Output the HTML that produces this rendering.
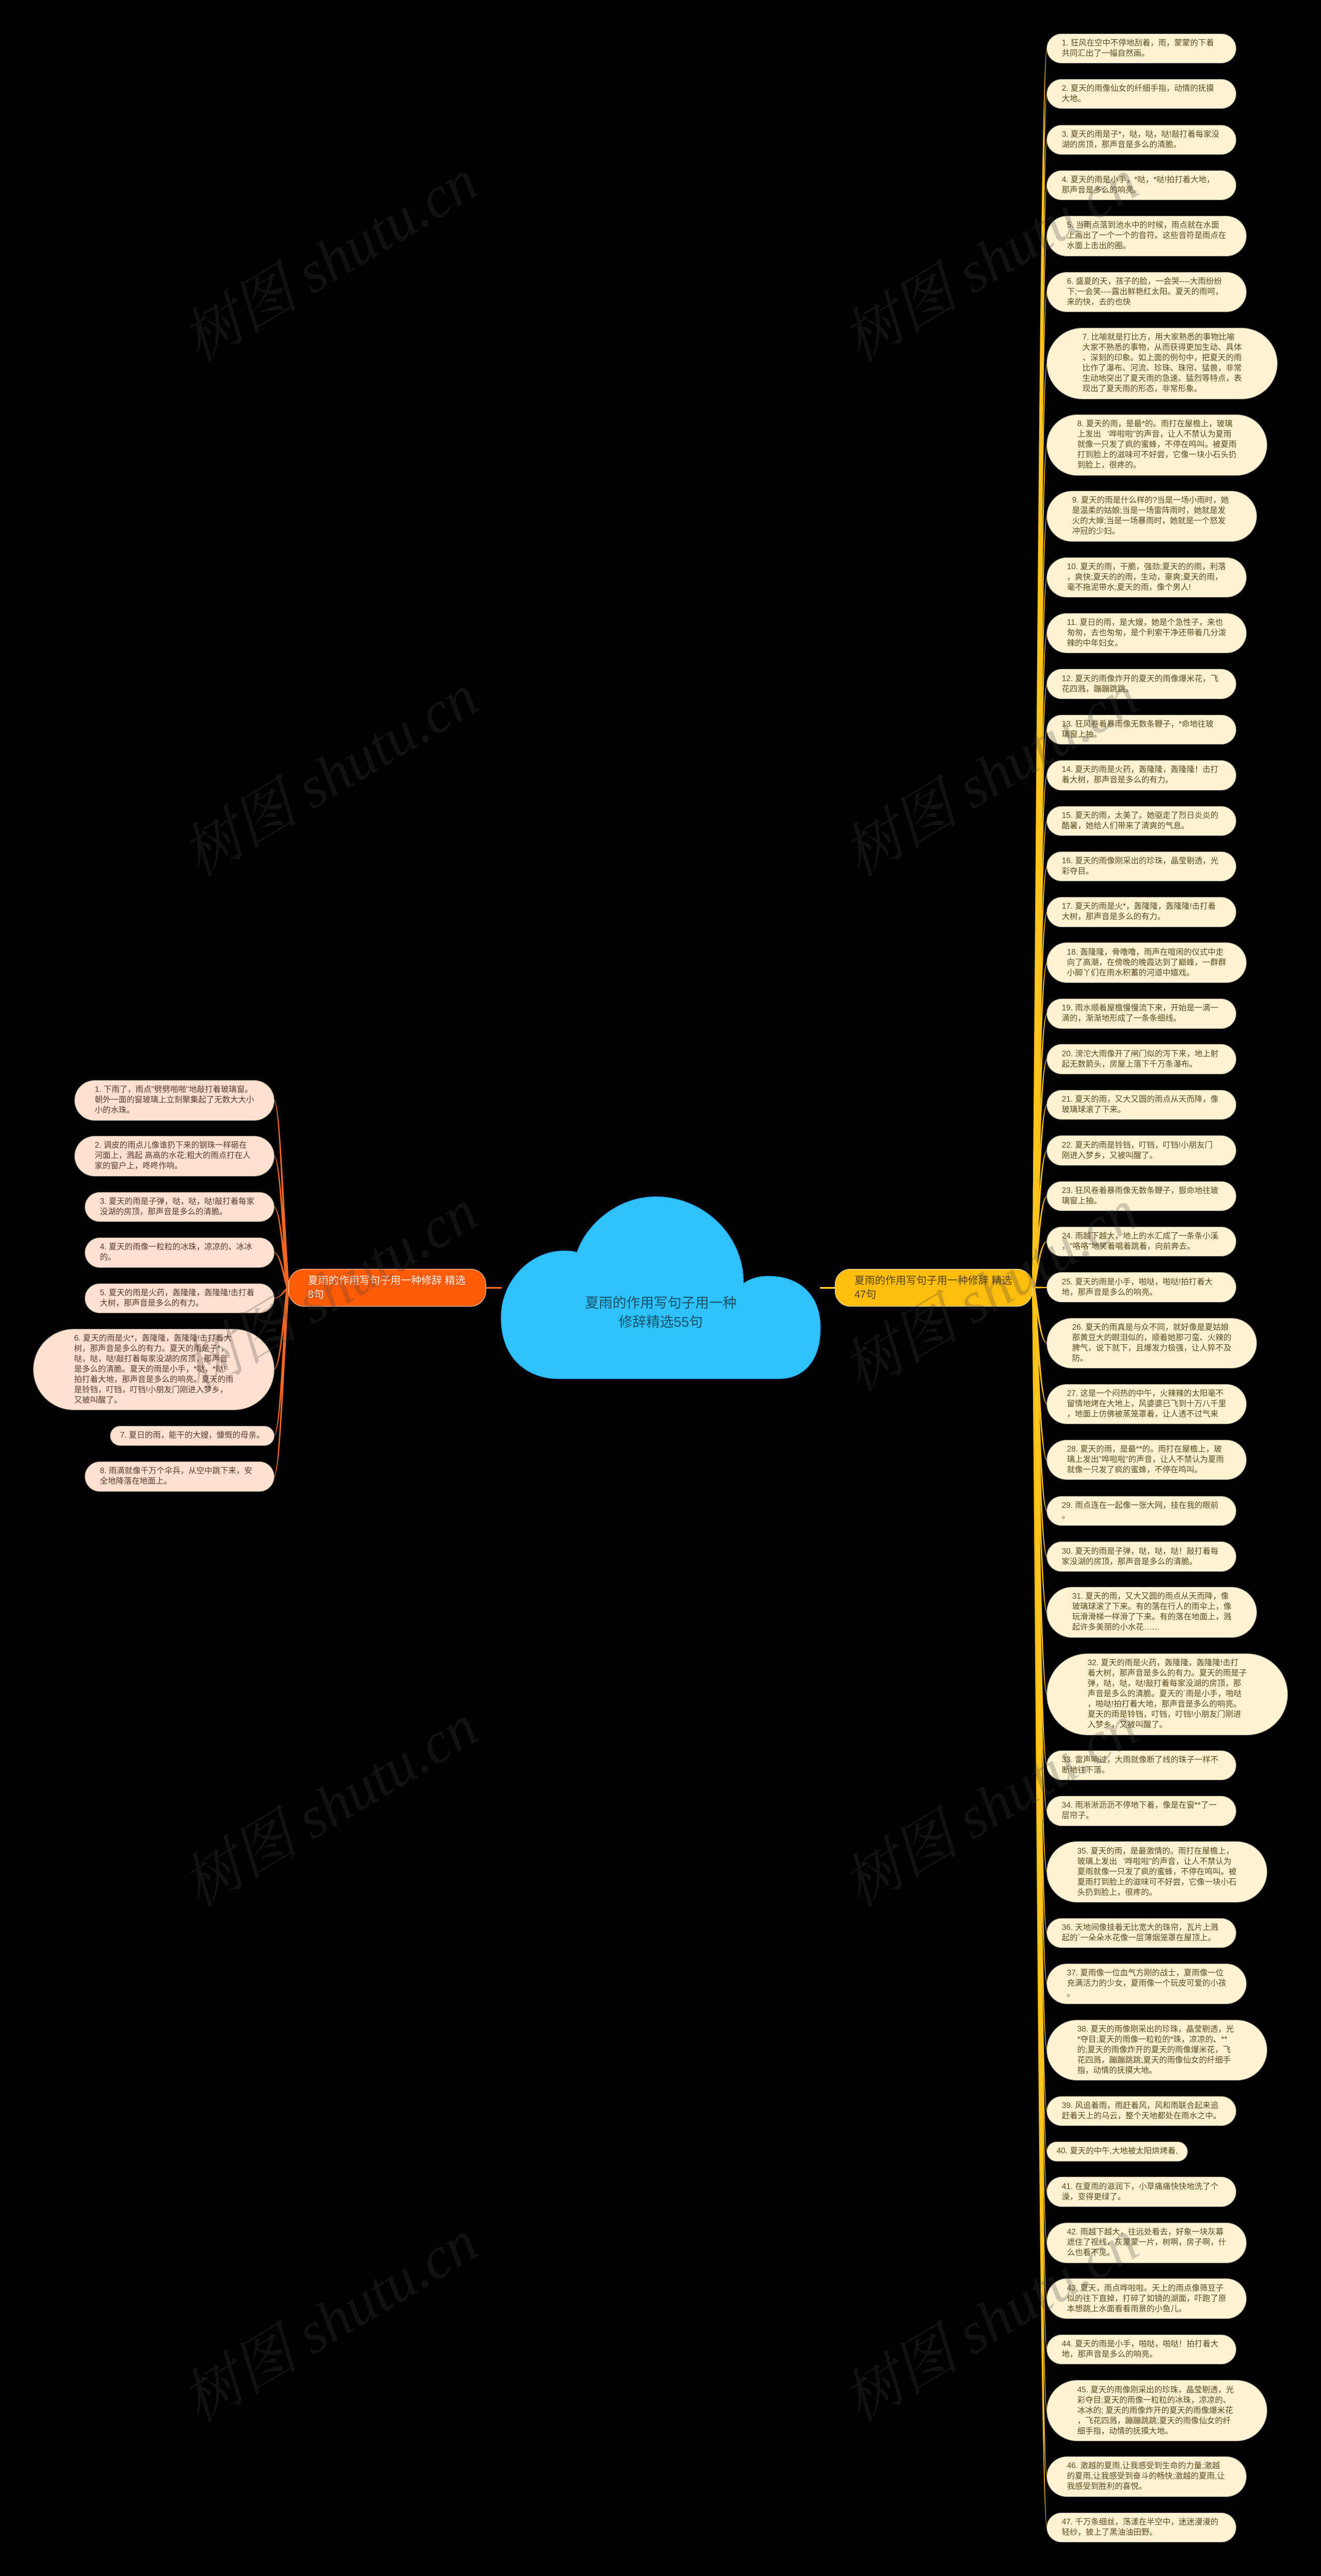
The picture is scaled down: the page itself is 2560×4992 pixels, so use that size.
<!DOCTYPE html>
<html lang="zh"><head><meta charset="utf-8"><title>夏雨的作用写句子用一种修辞精选55句</title>
<style>
html,body{margin:0;padding:0;background:#000}
body{width:2560px;height:4992px;position:relative;overflow:hidden;font-family:"Liberation Sans","WenQuanYi Zen Hei","Noto Sans CJK SC",sans-serif}
svg{position:absolute;left:0;top:0}
.n{position:absolute;box-sizing:border-box;display:flex;align-items:center;white-space:pre;font-size:15.44px;line-height:20px;border-radius:80px;box-shadow:0 0 0 1px rgba(200,200,190,.55)}
.r{left:2029px;background:#fff3d3;color:#5c4b20}
.l{background:#ffe1d0;color:#5a3a2c}
.h1{height:36.6px;width:272px;padding-left:18.6px}
.h2{height:56.6px;width:366px;padding-left:28.6px}
.h3{height:76.6px;width:386px;padding-left:38.6px}
.h4{height:96.6px;width:406px;padding-left:48.6px}
.h5{height:116.6px;width:426px;padding-left:58.6px}
.h6{height:136.6px;width:446px;padding-left:68.6px}
.h7{height:156.6px;width:466px;padding-left:78.6px}
.b{position:absolute;top:2459px;height:73.4px;width:383px;box-sizing:border-box;padding-left:36.8px;display:flex;align-items:center;white-space:pre;font-size:20px;line-height:26.7px;border-radius:30px;border:1.5px solid #ffe9c8}
.c{position:absolute;left:971px;width:619px;top:2507px;text-align:center;font-size:26.7px;line-height:36.7px;color:#17506e;white-space:pre}
.q{display:inline-block;width:1em;text-align:right}
</style></head><body>
<svg width="2560" height="4992" viewBox="0 0 2560 4992">
<path d="M941 2495.7H972" stroke="#e8662c" stroke-width="3.5" fill="none"/>
<path d="M1589 2495.7H1620" stroke="#ffc93c" stroke-width="3.5" fill="none"/>
<path d="M1082 2672C1030 2672 971 2640 971 2553C971 2480 1030 2424 1092 2424C1102 2424 1110 2424 1118 2427C1135 2375 1195 2319 1271 2319C1360 2319 1441 2390 1441 2487C1455 2477 1472 2473 1489 2473C1550 2473 1590 2510 1590 2573C1590 2640 1555 2672 1509 2672Z" fill="#2fc2f9" stroke="#2a8fe0" stroke-width="1"/>
<g fill="#ffbf0f" stroke="#ffc51f" stroke-width="1">
<path d="M2000.5 2495C2008 1774.7 2015.5 94 2029 94C2017.5 94 2011 1774.7 2005.5 2495Z"/>
<path d="M2000.5 2495C2008 1801.1 2015.5 182 2029 182C2017.5 182 2011 1801.1 2005.5 2495Z"/>
<path d="M2000.5 2495C2008 1827.8 2015.5 271 2029 271C2017.5 271 2011 1827.8 2005.5 2495Z"/>
<path d="M2000.5 2495C2008 1854.2 2015.5 359 2029 359C2017.5 359 2011 1854.2 2005.5 2495Z"/>
<path d="M2000.5 2495C2008 1883.8 2015.5 457.5 2029 457.5C2017.5 457.5 2011 1883.8 2005.5 2495Z"/>
<path d="M2000.5 2495C2008 1916.3 2015.5 566 2029 566C2017.5 566 2011 1916.3 2005.5 2495Z"/>
<path d="M2000.5 2495C2008 1957.9 2015.5 704.5 2029 704.5C2017.5 704.5 2011 1957.9 2005.5 2495Z"/>
<path d="M2000.5 2495C2008 2005.3 2015.5 862.5 2029 862.5C2017.5 862.5 2011 2005.3 2005.5 2495Z"/>
<path d="M2000.5 2495C2008 2046.7 2015.5 1000.5 2029 1000.5C2017.5 1000.5 2011 2046.7 2005.5 2495Z"/>
<path d="M2000.5 2495C2008 2082.2 2015.5 1119 2029 1119C2017.5 1119 2011 2082.2 2005.5 2495Z"/>
<path d="M2000.5 2495C2008 2114.6 2015.5 1227 2029 1227C2017.5 1227 2011 2114.6 2005.5 2495Z"/>
<path d="M2000.5 2495C2008 2144.3 2015.5 1326 2029 1326C2017.5 1326 2011 2144.3 2005.5 2495Z"/>
<path d="M2000.5 2495C2008 2170.7 2015.5 1414 2029 1414C2017.5 1414 2011 2170.7 2005.5 2495Z"/>
<path d="M2000.5 2495C2008 2197.3 2015.5 1502.5 2029 1502.5C2017.5 1502.5 2011 2197.3 2005.5 2495Z"/>
<path d="M2000.5 2495C2008 2223.8 2015.5 1591 2029 1591C2017.5 1591 2011 2223.8 2005.5 2495Z"/>
<path d="M2000.5 2495C2008 2250.2 2015.5 1679 2029 1679C2017.5 1679 2011 2250.2 2005.5 2495Z"/>
<path d="M2000.5 2495C2008 2276.8 2015.5 1767.5 2029 1767.5C2017.5 1767.5 2011 2276.8 2005.5 2495Z"/>
<path d="M2000.5 2495C2008 2306.3 2015.5 1866 2029 1866C2017.5 1866 2011 2306.3 2005.5 2495Z"/>
<path d="M2000.5 2495C2008 2335.9 2015.5 1964.5 2029 1964.5C2017.5 1964.5 2011 2335.9 2005.5 2495Z"/>
<path d="M2000.5 2495C2008 2362.4 2015.5 2053 2029 2053C2017.5 2053 2011 2362.4 2005.5 2495Z"/>
<path d="M2000.5 2495C2008 2388.8 2015.5 2141 2029 2141C2017.5 2141 2011 2388.8 2005.5 2495Z"/>
<path d="M2000.5 2495C2008 2415.5 2015.5 2230 2029 2230C2017.5 2230 2011 2415.5 2005.5 2495Z"/>
<path d="M2000.5 2495C2008 2441.9 2015.5 2318 2029 2318C2017.5 2318 2011 2441.9 2005.5 2495Z"/>
<path d="M2000.5 2495C2008 2468.3 2015.5 2406 2029 2406C2017.5 2406 2011 2468.3 2005.5 2495Z"/>
<path d="M2000.5 2493.5L2029 2494.5V2495.5L2000.5 2496.5Z"/>
<path d="M2000.5 2495C2008 2527.4 2015.5 2603 2029 2603C2017.5 2603 2011 2527.4 2005.5 2495Z"/>
<path d="M2000.5 2495C2008 2562.8 2015.5 2721 2029 2721C2017.5 2721 2011 2562.8 2005.5 2495Z"/>
<path d="M2000.5 2495C2008 2595.4 2015.5 2829.5 2029 2829.5C2017.5 2829.5 2011 2595.4 2005.5 2495Z"/>
<path d="M2000.5 2495C2008 2624.9 2015.5 2928 2029 2928C2017.5 2928 2011 2624.9 2005.5 2495Z"/>
<path d="M2000.5 2495C2008 2651.6 2015.5 3017 2029 3017C2017.5 3017 2011 2651.6 2005.5 2495Z"/>
<path d="M2000.5 2495C2008 2683.9 2015.5 3124.5 2029 3124.5C2017.5 3124.5 2011 2683.9 2005.5 2495Z"/>
<path d="M2000.5 2495C2008 2731.6 2015.5 3283.5 2029 3283.5C2017.5 3283.5 2011 2731.6 2005.5 2495Z"/>
<path d="M2000.5 2495C2008 2772.8 2015.5 3421 2029 3421C2017.5 3421 2011 2772.8 2005.5 2495Z"/>
<path d="M2000.5 2495C2008 2799.4 2015.5 3509.5 2029 3509.5C2017.5 3509.5 2011 2799.4 2005.5 2495Z"/>
<path d="M2000.5 2495C2008 2834.9 2015.5 3628 2029 3628C2017.5 3628 2011 2834.9 2005.5 2495Z"/>
<path d="M2000.5 2495C2008 2870.3 2015.5 3746 2029 3746C2017.5 3746 2011 2870.3 2005.5 2495Z"/>
<path d="M2000.5 2495C2008 2899.9 2015.5 3844.5 2029 3844.5C2017.5 3844.5 2011 2899.9 2005.5 2495Z"/>
<path d="M2000.5 2495C2008 2938.4 2015.5 3973 2029 3973C2017.5 3973 2011 2938.4 2005.5 2495Z"/>
<path d="M2000.5 2495C2008 2973.8 2015.5 4091 2029 4091C2017.5 4091 2011 2973.8 2005.5 2495Z"/>
<path d="M2000.5 2495C2008 2997.4 2015.5 4169.5 2029 4169.5C2017.5 4169.5 2011 2997.4 2005.5 2495Z"/>
<path d="M2000.5 2495C2008 3020.9 2015.5 4248 2029 4248C2017.5 4248 2011 3020.9 2005.5 2495Z"/>
<path d="M2000.5 2495C2008 3050.5 2015.5 4346.5 2029 4346.5C2017.5 4346.5 2011 3050.5 2005.5 2495Z"/>
<path d="M2000.5 2495C2008 3083 2015.5 4455 2029 4455C2017.5 4455 2011 3083 2005.5 2495Z"/>
<path d="M2000.5 2495C2008 3112.4 2015.5 4553 2029 4553C2017.5 4553 2011 3112.4 2005.5 2495Z"/>
<path d="M2000.5 2495C2008 3148.1 2015.5 4672 2029 4672C2017.5 4672 2011 3148.1 2005.5 2495Z"/>
<path d="M2000.5 2495C2008 3186.4 2015.5 4799.5 2029 4799.5C2017.5 4799.5 2011 3186.4 2005.5 2495Z"/>
<path d="M2000.5 2495C2008 3215.9 2015.5 4898 2029 4898C2017.5 4898 2011 3215.9 2005.5 2495Z"/>
</g>
<g fill="#f0651f" stroke="#f26a25" stroke-width="1">
<path d="M560.5 2496C551 2386.8 544 2132 531 2132C542 2132 549 2386.8 555.5 2496Z"/>
<path d="M560.5 2496C551 2419.2 544 2240 531 2240C542 2240 549 2419.2 555.5 2496Z"/>
<path d="M560.5 2496C551 2448.8 544 2338.5 531 2338.5C542 2338.5 549 2448.8 555.5 2496Z"/>
<path d="M560.5 2496C551 2475.3 544 2427 531 2427C542 2427 549 2475.3 555.5 2496Z"/>
<path d="M560.5 2496C551 2502 544 2516 531 2516C542 2516 549 2502 555.5 2496Z"/>
<path d="M560.5 2496C551 2543.3 544 2653.5 531 2653.5C542 2653.5 549 2543.3 555.5 2496Z"/>
<path d="M560.5 2496C551 2581.8 544 2782 531 2782C542 2782 549 2581.8 555.5 2496Z"/>
<path d="M560.5 2496C551 2605.5 544 2861 531 2861C542 2861 549 2605.5 555.5 2496Z"/>
</g>
</svg>

<div class="c">夏雨的作用写句子用一种
修辞精选55句</div>
<div class="b" style="left:558.8px;background:#ff5a06;color:#fff1e6">夏雨的作用写句子用一种修辞 精选
8句</div>
<div class="b" style="left:1618px;background:#ffbe0d;color:#5a4310">夏雨的作用写句子用一种修辞 精选
47句</div>

<div class="n l h3" style="left:145px;top:2094px">1. 下雨了，雨点"劈劈啪啪"地敲打着玻璃窗。
朝外一面的窗玻璃上立刻聚集起了无数大大小
小的水珠。</div>
<div class="n l h3" style="left:145px;top:2202px">2. 调皮的雨点儿像谁扔下来的钢珠一样砸在
河面上，溅起 高高的水花;粗大的雨点打在人
家的窗户上，咚咚作响。</div>
<div class="n l h2" style="left:165px;top:2310.7px">3. 夏天的雨是子弹，哒，哒，哒!敲打着每家
没湖的房顶，那声音是多么的清脆。</div>
<div class="n l h2" style="left:165px;top:2399px">4. 夏天的雨像一粒粒的冰珠，凉凉的、冰冰
的。</div>
<div class="n l h2" style="left:165px;top:2487.9px">5. 夏天的雨是火药，轰隆隆，轰隆隆!击打着
大树，那声音是多么的有力。</div>
<div class="n l h7" style="left:65px;top:2575.6px">6. 夏天的雨是火*，轰隆隆，轰隆隆!击打着大
树，那声音是多么的有力。夏天的雨是子*，
哒，哒，哒!敲打着每家没湖的房顶，那声音
是多么的清脆。夏天的雨是小手，*哒，*哒!
拍打着大地，那声音是多么的响亮。夏天的雨
是铃铛，叮铛，叮铛!小朋友门刚进入梦乡，
又被叫醒了。</div>
<div class="n l h1" style="left:214px;top:2764px;width:317px">7. 夏日的雨，能干的大嫂，慷慨的母亲。</div>
<div class="n l h2" style="left:165px;top:2833px">8. 雨滴就像千万个伞兵，从空中跳下来，安
全地降落在地面上。</div>

<div class="n r h2" style="top:65.5px">1. 狂风在空中不停地刮着，雨，蒙蒙的下着
共同汇出了一幅自然画。</div>
<div class="n r h2" style="top:153.8px">2. 夏天的雨像仙女的纤细手指，动情的抚摸
大地。</div>
<div class="n r h2" style="top:242.6px">3. 夏天的雨是子*，哒，哒，哒!敲打着每家没
湖的房顶，那声音是多么的清脆。</div>
<div class="n r h2" style="top:330.8px">4. 夏天的雨是小手，*哒，*哒!拍打着大地，
那声音是多么的响亮。</div>
<div class="n r h3" style="top:419px">5. 当雨点落到池水中的时候，雨点就在水面
上画出了一个一个的音符。这些音符是雨点在
水面上击出的圈。</div>
<div class="n r h3" style="top:527.8px">6. 盛夏的天，孩子的脸，一会哭----大雨纷纷
下;一会笑----露出鲜艳红太阳。夏天的雨呵，
来的快，去的也快</div>
<div class="n r h6" style="top:636px">7. 比喻就是打比方，用大家熟悉的事物比喻
大家不熟悉的事物，从而获得更加生动、具体
、深刻的印象。如上面的例句中，把夏天的雨
比作了瀑布、河流、珍珠、珠帘、猛兽，非常
生动地突出了夏天雨的急速、猛烈等特点，表
现出了夏天雨的形态，非常形象。</div>
<div class="n r h5" style="top:804px"><div>8. 夏天的雨，是最*的。雨打在屋檐上，玻璃
上发出<span class="q">‘</span>哗啦啦"的声音，让人不禁认为夏雨
就像一只发了疯的蜜蜂，不停在鸣叫。被夏雨
打到脸上的滋味可不好尝，它像一块小石头扔
到脸上，很疼的。</div></div>
<div class="n r h4" style="top:952px">9. 夏天的雨是什么样的?当是一场小雨时，她
是温柔的姑娘;当是一场雷阵雨时，她就是发
火的大婶;当是一场暴雨时，她就是一个怒发
冲冠的少妇。</div>
<div class="n r h3" style="top:1080.6px">10. 夏天的雨，干脆，强劲;夏天的的雨，利落
，爽快;夏天的的雨，生动，豪爽;夏天的雨，
毫不拖泥带水;夏天的雨，像个男人!</div>
<div class="n r h3" style="top:1188.8px">11. 夏日的雨，是大嫂，她是个急性子，来也
匆匆，去也匆匆，是个利索干净还带着几分泼
辣的中年妇女。</div>
<div class="n r h2" style="top:1297.4px">12. 夏天的雨像炸开的夏天的雨像爆米花，飞
花四溅，蹦蹦跳跳。</div>
<div class="n r h2" style="top:1385.5px">13. 狂风卷着暴雨像无数条鞭子，*命地往玻
璃窗上抽。</div>
<div class="n r h2" style="top:1474px">14. 夏天的雨是火药，轰隆隆，轰隆隆！击打
着大树，那声音是多么的有力。</div>
<div class="n r h2" style="top:1562.6px">15. 夏天的雨，太美了。她驱走了烈日炎炎的
酷暑，她给人们带来了清爽的气息。</div>
<div class="n r h2" style="top:1650.8px">16. 夏天的雨像刚采出的珍珠，晶莹剔透，光
彩夺目。</div>
<div class="n r h2" style="top:1739px">17. 夏天的雨是火*，轰隆隆，轰隆隆!击打着
大树，那声音是多么的有力。</div>
<div class="n r h3" style="top:1827.3px">18. 轰隆隆，骨噜噜，雨声在喧闹的仪式中走
向了高潮，在傍晚的晚霞达到了巅峰，一群群
小脚丫们在雨水积蓄的河道中嬉戏。</div>
<div class="n r h2" style="top:1936px">19. 雨水顺着屋檐慢慢流下来，开始是一滴一
滴的，渐渐地形成了一条条细线。</div>
<div class="n r h2" style="top:2024.3px">20. 滂沱大雨像开了闸门似的泻下来，地上射
起无数箭头，房屋上落下千万条瀑布。</div>
<div class="n r h2" style="top:2112.6px">21. 夏天的雨，又大又圆的雨点从天而降，像
玻璃球滚了下来。</div>
<div class="n r h2" style="top:2201.3px">22. 夏天的雨是铃铛，叮铛，叮铛!小朋友门
刚进入梦乡，又被叫醒了。</div>
<div class="n r h2" style="top:2289.6px">23. 狂风卷着暴雨像无数条鞭子，狠命地往玻
璃窗上抽。</div>
<div class="n r h2" style="top:2377.7px">24. 雨越下越大，地上的水汇成了一条条小溪
，"咯咯"地笑着唱着跳着，向前奔去。</div>
<div class="n r h2" style="top:2466.4px">25. 夏天的雨是小手，啪哒，啪哒!拍打着大
地，那声音是多么的响亮。</div>
<div class="n r h4" style="top:2554.7px">26. 夏天的雨真是与众不同，就好像是夏姑娘
那黄豆大的眼泪似的，顺着她那刁蛮、火辣的
脾气，说下就下，且爆发力极强，让人猝不及
防。</div>
<div class="n r h3" style="top:2682.8px">27. 这是一个闷热的中午，火辣辣的太阳毫不
留情地烤在大地上，风婆婆已飞到十万八千里
，地面上仿佛被蒸笼罩着，让人透不过气来</div>
<div class="n r h3" style="top:2790.9px">28. 夏天的雨，是最**的。雨打在屋檐上，玻
璃上发出"哗啦啦"的声音，让人不禁认为夏雨
就像一只发了疯的蜜蜂，不停在鸣叫。</div>
<div class="n r h2" style="top:2899.6px">29. 雨点连在一起像一张大网，挂在我的眼前
。</div>
<div class="n r h2" style="top:2988.4px">30. 夏天的雨是子弹，哒，哒，哒！敲打着每
家没湖的房顶，那声音是多么的清脆。</div>
<div class="n r h4" style="top:3076px">31. 夏天的雨，又大又圆的雨点从天而降，像
玻璃球滚了下来。有的落在行人的雨伞上，像
玩滑滑梯一样滑了下来。有的落在地面上，溅
起许多美丽的小水花……</div>
<div class="n r h7" style="top:3205px">32. 夏天的雨是火药，轰隆隆，轰隆隆!击打
着大树，那声音是多么的有力。夏天的雨是子
弹，哒，哒，哒!敲打着每家没湖的房顶，那
声音是多么的清脆。夏天的`雨是小手，啪哒
，啪哒!拍打着大地，那声音是多么的响亮。
夏天的雨是铃铛，叮铛，叮铛!小朋友门刚进
入梦乡，又被叫醒了。</div>
<div class="n r h2" style="top:3392.8px">33. 雷声响过，大雨就像断了线的珠子一样不
断地往下落。</div>
<div class="n r h2" style="top:3481px">34. 雨淅淅沥沥不停地下着，像是在窗**了一
层帘子。</div>
<div class="n r h5" style="top:3569.3px"><div>35. 夏天的雨，是最激情的。雨打在屋檐上，
玻璃上发出<span class="q">‘</span>哗啦啦"的声音，让人不禁认为
夏雨就像一只发了疯的蜜蜂，不停在鸣叫。被
夏雨打到脸上的滋味可不好尝，它像一块小石
头扔到脸上，很疼的。</div></div>
<div class="n r h2" style="top:3717.8px">36. 天地间像挂着无比宽大的珠帘，瓦片上溅
起的`一朵朵水花像一层薄烟笼罩在屋顶上。</div>
<div class="n r h3" style="top:3806px">37. 夏雨像一位血气方刚的战士，夏雨像一位
充满活力的少女，夏雨像一个玩皮可爱的小孩
。</div>
<div class="n r h5" style="top:3914.6px">38. 夏天的雨像刚采出的珍珠，晶莹剔透，光
*夺目;夏天的雨像一粒粒的*珠，凉凉的、**
的;夏天的雨像炸开的夏天的雨像爆米花，飞
花四溅，蹦蹦跳跳;夏天的雨像仙女的纤细手
指，动情的抚摸大地。</div>
<div class="n r h2" style="top:4062.9px">39. 风追着雨，雨赶着风，风和雨联合起来追
赶着天上的乌云，整个天地都处在雨水之中。</div>
<div class="n r h1" style="top:4151px">40. 夏天的中午,大地被太阳烘烤着,</div>
<div class="n r h2" style="top:4219.3px">41. 在夏雨的滋润下，小草痛痛快快地洗了个
澡，变得更绿了。</div>
<div class="n r h3" style="top:4308px">42. 雨越下越大，往远处看去，好象一块灰幕
遮住了视线，灰蒙蒙一片，树啊，房子啊，什
么也看不见。</div>
<div class="n r h3" style="top:4416.3px">43. 夏天，雨点哗啦啦。天上的雨点像筛豆子
似的往下直掉，打碎了如镜的湖面，吓跑了原
本想跳上水面看看雨景的小鱼儿。</div>
<div class="n r h2" style="top:4524.8px">44. 夏天的雨是小手，啪哒，啪哒！拍打着大
地，那声音是多么的响亮。</div>
<div class="n r h5" style="top:4613.4px">45. 夏天的雨像刚采出的珍珠，晶莹剔透，光
彩夺目;夏天的雨像一粒粒的冰珠，凉凉的、
冰冰的; 夏天的雨像炸开的夏天的雨像爆米花
，飞花四溅，蹦蹦跳跳;夏天的雨像仙女的纤
细手指，动情的抚摸大地。</div>
<div class="n r h3" style="top:4761px">46. 激越的夏雨,让我感受到生命的力量;激越
的夏雨,让我感受到奋斗的畅快;激越的夏雨,让
我感受到胜利的喜悦。</div>
<div class="n r h2" style="top:4869.6px">47. 千万条细丝，荡漾在半空中，迷迷漫漫的
轻纱，披上了黑油油田野。</div>

<svg width="2560" height="4992" viewBox="0 0 2560 4992" style="pointer-events:none">
<g font-family="'Liberation Serif','Noto Serif CJK SC',serif" font-style="italic" font-size="114" fill="rgb(65,65,65)" fill-opacity=".26">
<text transform="translate(385 703) rotate(-31)">树图 shutu.cn</text>
<text transform="translate(1665 703) rotate(-31)">树图 shutu.cn</text>
<text transform="translate(385 1701.4) rotate(-31)">树图 shutu.cn</text>
<text transform="translate(1665 1701.4) rotate(-31)">树图 shutu.cn</text>
<text transform="translate(385 2699.8) rotate(-31)">树图 shutu.cn</text>
<text transform="translate(1665 2699.8) rotate(-31)">树图 shutu.cn</text>
<text transform="translate(385 3698.2) rotate(-31)">树图 shutu.cn</text>
<text transform="translate(1665 3698.2) rotate(-31)">树图 shutu.cn</text>
<text transform="translate(385 4696.6) rotate(-31)">树图 shutu.cn</text>
<text transform="translate(1665 4696.6) rotate(-31)">树图 shutu.cn</text>
</g>
</svg>
</body></html>
